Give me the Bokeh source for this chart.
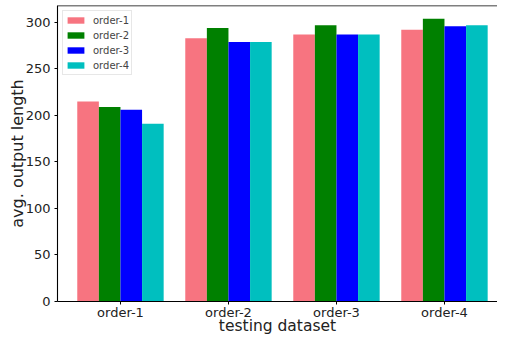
from bokeh.plotting import figure
from bokeh.models import FixedTicker, Span, Legend, LegendItem, ColumnDataSource, Range1d
from bokeh.embed import file_html
from bokeh.resources import INLINE

categories = ["order-1", "order-2", "order-3", "order-4"]
series_names = ["order-1", "order-2", "order-3", "order-4"]
values_order1 = [215, 283, 287, 292]
values_order2 = [209, 294, 297, 304]
values_order3 = [206, 279, 287, 296]
values_order4 = [191, 279, 287, 297]
colors = ["#f77480", "#008000", "#0000ff", "#00bfbf"]
y_ticks = [0, 50, 100, 150, 200, 250, 300]

series = [values_order1, values_order2, values_order3, values_order4]
bar_w = 0.2
y_top = 318.2

p = figure(width=497, height=337, output_backend="svg", toolbar_location=None,
           x_range=Range1d(-0.583, 3.491), y_range=Range1d(0, y_top),
           min_border_left=57, min_border_right=0, min_border_top=5, min_border_bottom=35)
p.outline_line_color = None
p.xgrid.visible = False
p.ygrid.visible = False
p.background_fill_color = "white"
p.border_fill_color = "white"

items = []
for j, (vals, name, col) in enumerate(zip(series, series_names, colors)):
    xs = [i + (j - 1.5) * bar_w for i in range(len(categories))]
    src = ColumnDataSource(dict(x=xs, top=vals))
    r = p.vbar(x="x", top="top", width=bar_w, bottom=0, source=src,
               fill_color=col, line_color=None)
    items.append(LegendItem(label=name, renderers=[r]))

legend = Legend(items=items, location="top_left", margin=5, padding=2,
                spacing=1, glyph_width=21, glyph_height=8, label_height=14,
                label_text_font="DejaVu Sans", label_text_font_size="10px",
                label_standoff=7, border_line_color="#d0d0d0", border_line_width=1,
                background_fill_alpha=0.8)
p.add_layout(legend)

top_spine = Span(location=y_top, dimension="width", line_color="black", line_width=1.5)
p.add_layout(top_spine)

for ax in (p.xaxis[0], p.yaxis[0]):
    ax.axis_line_color = "black"
    ax.axis_line_width = 1.1
    ax.major_tick_line_color = "black"
    ax.major_tick_line_width = 1
    ax.major_tick_in = 0
    ax.major_tick_out = 3
    ax.minor_tick_line_color = None
    ax.major_label_text_font = "DejaVu Sans"
    ax.major_label_text_font_size = "13px"
    ax.major_label_text_color = "#222222"
    ax.axis_label_text_font = "DejaVu Sans"
    ax.axis_label_text_font_style = "normal"
    ax.axis_label_text_color = "#222222"

p.xaxis.ticker = FixedTicker(ticks=list(range(len(categories))))
p.xaxis.major_label_overrides = {i: c for i, c in enumerate(categories)}
p.xaxis.axis_label = "testing dataset"
p.xaxis.axis_label_text_font_size = "15.5px"
p.xaxis.major_label_standoff = 0
p.xaxis.axis_label_standoff = -6

p.yaxis.ticker = FixedTicker(ticks=y_ticks)
p.yaxis.axis_label = "avg. output length"
p.yaxis.axis_label_text_font_size = "16px"
p.yaxis.major_label_standoff = 4
p.yaxis.axis_label_standoff = -4

open("out.html", "w").write(file_html(p, INLINE))
